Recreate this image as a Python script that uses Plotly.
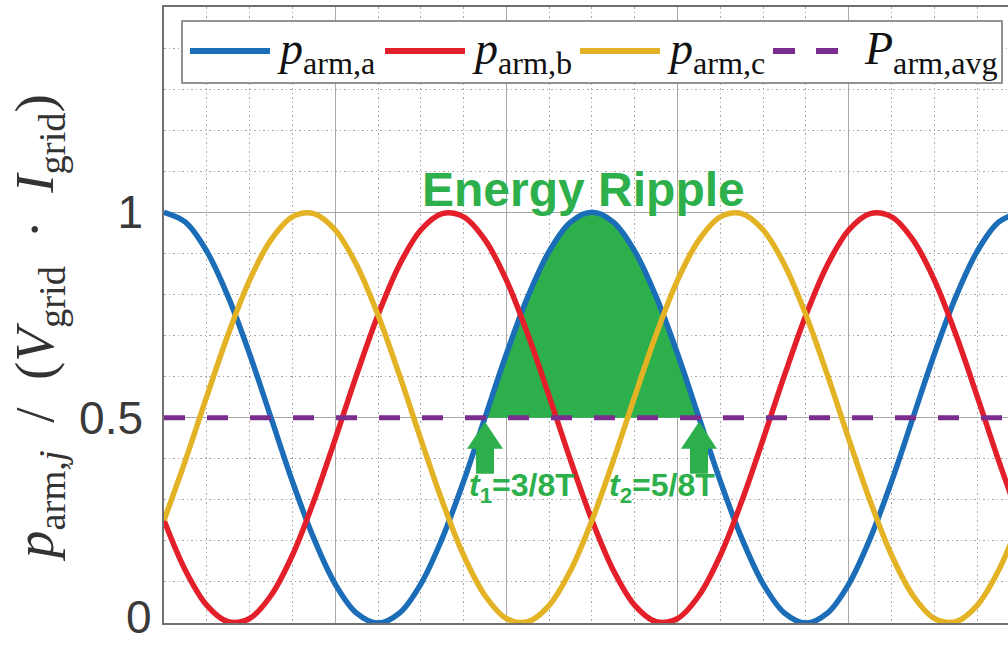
import plotly.graph_objects as go

# Sample times as a fraction of the period T
t = [0.000, 0.025, 0.050, 0.075, 0.100, 0.125, 0.150, 0.175, 0.200, 0.225,
     0.250, 0.275, 0.300, 0.325, 0.350, 0.375, 0.400, 0.425, 0.450, 0.475,
     0.500, 0.525, 0.550, 0.575, 0.600, 0.625, 0.650, 0.675, 0.700, 0.725,
     0.750, 0.775, 0.800, 0.825, 0.850, 0.875, 0.900, 0.925, 0.950, 0.975,
     1.000]

# Normalised arm power of the three phases
p_arm_a = [1.000, 0.976, 0.905, 0.794, 0.655, 0.500, 0.345, 0.206, 0.095, 0.024,
           0.000, 0.024, 0.095, 0.206, 0.345, 0.500, 0.655, 0.794, 0.905, 0.976,
           1.000, 0.976, 0.905, 0.794, 0.655, 0.500, 0.345, 0.206, 0.095, 0.024,
           0.000, 0.024, 0.095, 0.206, 0.345, 0.500, 0.655, 0.794, 0.905, 0.976,
           1.000]
p_arm_b = [0.250, 0.128, 0.043, 0.003, 0.011, 0.067, 0.165, 0.297, 0.448, 0.604,
           0.750, 0.872, 0.957, 0.997, 0.989, 0.933, 0.835, 0.703, 0.552, 0.396,
           0.250, 0.128, 0.043, 0.003, 0.011, 0.067, 0.165, 0.297, 0.448, 0.604,
           0.750, 0.872, 0.957, 0.997, 0.989, 0.933, 0.835, 0.703, 0.552, 0.396,
           0.250]
p_arm_c = [0.250, 0.396, 0.552, 0.703, 0.835, 0.933, 0.989, 0.997, 0.957, 0.872,
           0.750, 0.604, 0.448, 0.297, 0.165, 0.067, 0.011, 0.003, 0.043, 0.128,
           0.250, 0.396, 0.552, 0.703, 0.835, 0.933, 0.989, 0.997, 0.957, 0.872,
           0.750, 0.604, 0.448, 0.297, 0.165, 0.067, 0.011, 0.003, 0.043, 0.128,
           0.250]
P_arm_avg = 0.5

# Start and end of the energy ripple interval
t1 = 3 / 8
t2 = 5 / 8

y_tick_vals = [0, 0.5, 1]
y_tick_text = ["0", "0.5", "1"]

BLUE = "#1A6DB6"
RED = "#E3202A"
YELLOW = "#E3B325"
PURPLE = "#7B2D8E"
GREEN = "#2DB04B"
GRID = "#A8A8A8"
TICK_COLOR = "#3A3A3A"
SERIF = "Liberation Serif"
SANS = "Liberation Sans"
TICK_SIZE = 46

W, H = 1008, 645
L, R, TOP, B = 164, 0, 7, 22
T_MAX = 0.986


def px(x):
    """Horizontal pixel -> paper coordinate."""
    return (x - L) / (W - L - R)


def py(y):
    """Vertical pixel -> paper coordinate."""
    return (H - B - y) / (H - TOP - B)


fig = go.Figure()

# Shaded area between phase a and the average power over [t1, t2]
seg = [i for i, ti in enumerate(t) if t1 <= ti <= t2]
seg_t = [t[i] for i in seg]
fig.add_trace(go.Scatter(x=seg_t, y=[P_arm_avg] * len(seg_t), mode="lines",
                         line=dict(width=0, color=GREEN), showlegend=False,
                         hoverinfo="skip"))
fig.add_trace(go.Scatter(x=seg_t, y=[p_arm_a[i] for i in seg], mode="lines",
                         line=dict(width=0, color=GREEN, shape="spline"),
                         fill="tonexty", fillcolor=GREEN, showlegend=False,
                         hoverinfo="skip"))

for y, c, name in [(p_arm_a, BLUE, "a"), (p_arm_b, RED, "b"), (p_arm_c, YELLOW, "c")]:
    fig.add_trace(go.Scatter(x=t, y=y, mode="lines", name=name,
                             line=dict(color=c, width=5.5, shape="spline",
                                       smoothing=1.0),
                             showlegend=False))

fig.add_trace(go.Scatter(x=[t[0], t[-1]], y=[P_arm_avg, P_arm_avg], mode="lines",
                         line=dict(color=PURPLE, width=5, dash="21px,22px"),
                         showlegend=False))

shapes = []
annotations = []

# Up arrows marking t1 and t2
arrow_path = "M 0,-4 L 18,-31 L 9,-31 L 9,-56 L -9,-56 L -9,-31 L -18,-31 Z"
for tx in (t1, t2):
    shapes.append(dict(type="path", xref="x", yref="y", xsizemode="pixel",
                       ysizemode="pixel", xanchor=tx, yanchor=P_arm_avg,
                       path=arrow_path, fillcolor=GREEN,
                       line=dict(width=0), layer="above"))

annotations.append(dict(x=t1, y=0.33, xref="x", yref="y", xanchor="left",
                        yanchor="middle", xshift=-18, showarrow=False,
                        text="<b><i>t</i><sub>1</sub>=3/8T</b>",
                        font=dict(family=SANS, size=32, color=GREEN)))
annotations.append(dict(x=t2, y=0.33, xref="x", yref="y", xanchor="right",
                        yanchor="middle", xshift=18, showarrow=False,
                        text="<b><i>t</i><sub>2</sub>=5/8T</b>",
                        font=dict(family=SANS, size=32, color=GREEN)))
annotations.append(dict(x=0.49, y=1.055, xref="x", yref="y", showarrow=False,
                        text="<b>Energy Ripple</b>",
                        font=dict(family=SANS, size=48, color=GREEN)))

# Legend box
shapes.append(dict(type="rect", xref="paper", yref="paper",
                   x0=px(182), x1=px(1002), y0=py(83), y1=py(21),
                   fillcolor="white", line=dict(color="#707070", width=1.5),
                   layer="above"))
legend_items = [
    (190, 270, BLUE, "solid", "<i>p</i><sub>arm,a</sub>"),
    (385, 465, RED, "solid", "<i>p</i><sub>arm,b</sub>"),
    (580, 660, YELLOW, "solid", "<i>p</i><sub>arm,c</sub>"),
    (773, 840, PURPLE, "22px,21px", "<i>P</i><sub>arm,avg</sub>"),
]
for i, (x0, x1, c, dash, label) in enumerate(legend_items):
    shapes.append(dict(type="line", xref="paper", yref="paper",
                       x0=px(x0), x1=px(x1), y0=py(51), y1=py(51),
                       line=dict(color=c, width=6, dash=dash), layer="above"))
    annotations.append(dict(x=px(x1 + (22 if i == 3 else 5)), y=py(52),
                            xref="paper", yref="paper", xanchor="left",
                            yanchor="middle", showarrow=False, text=label,
                            font=dict(family=SERIF, size=46, color="#111111")))

# The bottom tick label sits on the lower edge; keep it inside the page
annotations.append(dict(x=0, y=y_tick_vals[0], xref="paper", yref="y",
                        xanchor="right", yanchor="bottom", xshift=-10,
                        yshift=-22, showarrow=False, text=y_tick_text[0],
                        font=dict(family=SANS, size=TICK_SIZE, color=TICK_COLOR)))

# Y-axis title
annotations.append(dict(x=px(38), y=py(328), xref="paper", yref="paper",
                        xanchor="center", yanchor="middle",
                        textangle=-90, showarrow=False,
                        text="<i>p</i><sub>arm,<i>j</i></sub>  /  (<i>V</i><sub>grid</sub>  ·  <i>I</i><sub>grid</sub>)",
                        font=dict(family=SERIF, size=55, color="#333333")))

fig.update_layout(
    width=W, height=H,
    margin=dict(l=L, r=R, t=TOP, b=B, autoexpand=False),
    paper_bgcolor="white", plot_bgcolor="white",
    shapes=shapes, annotations=annotations,
    showlegend=False,
)
fig.update_xaxes(
    range=[0, T_MAX], dtick=0.2, tick0=0, showticklabels=False, ticks="",
    showgrid=True, gridcolor=GRID, gridwidth=1,
    minor=dict(dtick=0.05, showgrid=True, gridcolor=GRID, griddash="1.5px,3px",
               gridwidth=1),
    showline=True, linecolor="#707070", linewidth=1.5, mirror=True,
    zeroline=False, automargin=False,
)
fig.update_yaxes(
    range=[0, 1.5], tickvals=y_tick_vals[1:], ticktext=y_tick_text[1:], ticks="",
    tickfont=dict(family=SANS, size=TICK_SIZE, color=TICK_COLOR),
    ticklabelstandoff=10,
    showgrid=True, gridcolor=GRID, gridwidth=1,
    minor=dict(dtick=0.1, tick0=0, showgrid=True, gridcolor=GRID,
               griddash="1.5px,3px", gridwidth=1),
    showline=True, linecolor="#707070", linewidth=1.5, mirror=False,
    zeroline=False, automargin=False,
)

fig.write_html("out.html")
